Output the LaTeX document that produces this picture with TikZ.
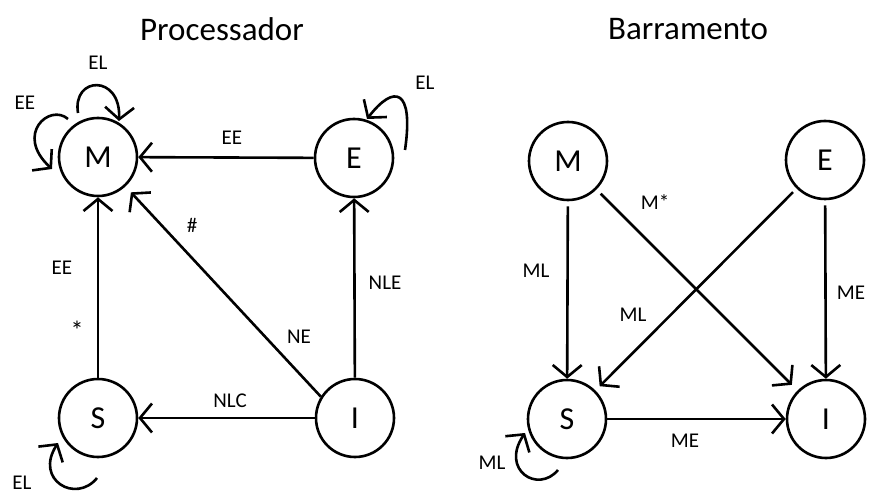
\documentclass[tikz,border=0pt]{standalone}
\usepackage{fontspec}
\setmainfont{Carlito}
\usetikzlibrary{arrows.meta}
\begin{document}
\begin{tikzpicture}[x=1pt,y=-1pt,
  state/.style={circle,draw,line width=2.6pt,minimum size=78pt,inner sep=0pt,font=\fontsize{32}{32}\selectfont},
  edge/.style={line width=2.6pt,-{Straight Barb[length=12pt,width=29pt]}},
  lbl/.style={font=\fontsize{21}{21}\selectfont,inner sep=0pt},
  title/.style={font=\fontsize{33}{33}\selectfont,inner sep=0pt}]
\useasboundingbox (0,0) rectangle (869,494);

% titles
\node[title] (tp) at (222,29) {Processador};
\node[title] (tb) at (688,29) {Barramento};

% processor states
\node[state] (pM) at (98,157) {M};
\node[state] (pE) at (354,158) {E};
\node[state] (pS) at (98,418) {S};
\node[state] (pI) at (355,418) {I};

% bus states
\node[state] (bM) at (568,161) {M};
\node[state] (bE) at (825,160) {E};
\node[state] (bS) at (567,419) {S};
\node[state] (bI) at (826,419) {I};

% processor transitions
\draw[edge] (pE) -- (pM);
\draw[edge] (pS) -- (pM);
\draw[edge] (pI) -- (pE);
\draw[edge] (pI) -- (pS);
\draw[edge,shorten >=8pt] (pI.148) -- (pM.-47.5);

% processor self-loops
\coordinate (mlA) at (78,113);
\coordinate (mlB) at (119,121);
\draw[edge] (mlA) .. controls (72,76) and (121,74) .. (mlB);
\coordinate (mlC) at (68,119);
\coordinate (mlD) at (52,169);
\draw[edge] (mlC) .. controls (50,103) and (14,134) .. (mlD);
\coordinate (elA) at (405,150);
\coordinate (elB) at (367,119);
\draw[edge] (elA) .. controls (414,88) and (394,84) .. (elB);
\coordinate (slA) at (97,478);
\coordinate (slB) at (58,443);
\draw[edge] (slA) .. controls (76,504) and (34,480) .. (slB);

% bus transitions
\draw[edge,shorten <=5pt] (bM) -- (bS);
\draw[edge,shorten <=5pt] (bE) -- (bI);
\draw[edge] (bS) -- (bI);
\draw[edge,shorten <=6pt,shorten >=8pt] (bM) -- (bI);
\draw[edge,shorten <=5pt,shorten >=6pt] (bE) -- (bS);

% bus self-loop
\coordinate (bsA) at (558,470);
\coordinate (bsB) at (525,433);
\draw[edge] (bsA) .. controls (538,494) and (500,470) .. (bsB);

% processor labels
\node[lbl] (l1) at (232,138) {EE};
\node[lbl] (l2) at (98,63) {EL};
\node[lbl] (l3) at (25,103) {EE};
\node[lbl] (l4) at (425,83) {EL};
\node[lbl] (l5) at (192,225) {\#};
\node[lbl] (l6) at (62,268) {EE};
\node[lbl,font=\fontsize{26}{26}\selectfont] (l7) at (77,330) {*};
\node[lbl] (l8) at (299,337) {NE};
\node[lbl] (l9) at (385,283) {NLE};
\node[lbl] (l10) at (230,401) {NLC};
\node[lbl] (l11) at (22,483) {EL};

% bus labels
\node[lbl] (m1) at (655,202) {M*};
\node[lbl] (m2) at (536,271) {ML};
\node[lbl] (m3) at (633,315) {ML};
\node[lbl] (m4) at (851,293) {ME};
\node[lbl] (m5) at (685,441) {ME};
\node[lbl] (m6) at (492,463) {ML};
\end{tikzpicture}
\end{document}
